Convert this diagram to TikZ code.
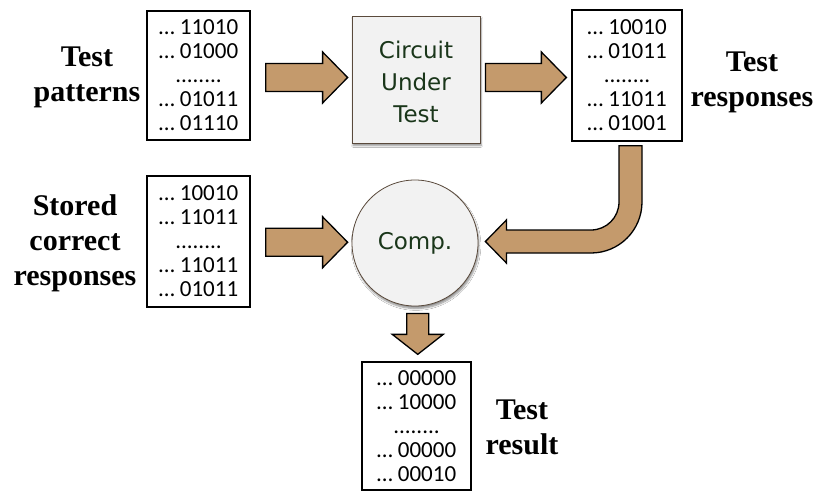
\documentclass[tikz,border=0pt]{standalone}
\usepackage{fontspec}
\setmainfont{Liberation Serif}
\newfontfamily\datafont{Carlito}
\newfontfamily\blockfont{DejaVu Sans}
\usetikzlibrary{calc,shadows.blur}

\definecolor{arrowtan}{HTML}{C49A6C}
\definecolor{blockgreen}{HTML}{1A361A}
\definecolor{blockfill}{HTML}{F2F2F2}
\definecolor{blockedge}{HTML}{5A4A3C}

\tikzset{
  databox/.style={draw=black, line width=1.3pt, fill=white, align=center,
    inner sep=0pt, text=black,
    font=\datafont\fontsize{23}{24}\selectfont},
  sidetext/.style={align=center, inner sep=0pt,
    font=\bfseries\fontsize{30}{35}\selectfont},
  block/.style={draw=blockedge, line width=0.8pt, fill=blockfill,
    text=blockgreen, align=center, inner sep=0pt,
    font=\blockfont\fontsize{23}{32}\selectfont,
    blur shadow={shadow xshift=1pt, shadow yshift=-2.5pt,
      shadow blur steps=6, shadow opacity=45}},
  flowarrow/.style={draw=black, fill=arrowtan, line width=1.3pt,
    line join=miter}
}

% block arrow pointing right, between two points
\newcommand\rightblock[2]{%
  \draw[flowarrow] let \p1=(#1), \p2=(#2), \n1={(\y1+\y2)/2} in
    (\x1,\n1+14) -- (\x2-25,\n1+14) -- (\x2-25,\n1+25.5) -- (\x2,\n1)
    -- (\x2-25,\n1-25.5) -- (\x2-25,\n1-14) -- (\x1,\n1-14) -- cycle;}

\begin{document}
\begin{tikzpicture}[x=1pt,y=1pt]
\fill[white] (0,0) rectangle (817,-493);
\useasboundingbox (0,0) rectangle (817,-493);

% data columns
\node[databox, minimum width=103, minimum height=129] (tp) at (198.5,-75.5)
  {… 11010\\… 01000\\........\\… 01011\\… 01110};
\node[databox, minimum width=110, minimum height=131] (resp) at (627,-75.5)
  {… 10010\\… 01011\\........\\… 11011\\… 01001};
\node[databox, minimum width=103, minimum height=131] (stored) at (198.5,-241.5)
  {… 10010\\… 11011\\........\\… 11011\\… 01011};
\node[databox, minimum width=109, minimum height=128] (res) at (416.5,-426)
  {… 00000\\… 10000\\........\\… 00000\\… 00010};

% circuit and comparator
\node[block, minimum width=128, minimum height=127] (cut) at (416,-79.5)
  {\raisebox{-5pt}[\height][\depth]{\begin{tabular}{@{}c@{}}Circuit\\Under\\Test\end{tabular}}};
\node[block, circle, minimum size=126] (comp) at (415,-243) {Comp.};

% captions
\node[sidetext] (tplabel) at (87,-77) {Test\\patterns};
\node[sidetext] (stlabel) at (75,-243.5) {Stored\\correct\\responses};
\node[sidetext] (rslabel) at (752,-82) {Test\\responses};
\node[sidetext] (rtlabel) at (522,-427.5) {Test\\result};

% straight block arrows
\rightblock{[xshift=15pt]tp.east}{[xshift=-4pt]cut.west}
\rightblock{[xshift=5pt]cut.east}{[xshift=-5pt]resp.west}
\rightblock{[xshift=15pt]stored.east}{[xshift=-4pt]comp.west}

% downward arrow to the result
\draw[flowarrow] let \p1=([yshift=-7pt]comp.south), \p2=([yshift=7pt]res.north),
    \n1={(\x1+\x2)/2+2} in
  (\n1-11,\y1) -- (\n1+11,\y1) -- (\n1+11,\y2+20) -- (\n1+25.5,\y2+20)
  -- (\n1,\y2) -- (\n1-25.5,\y2+20) -- (\n1-11,\y2+20) -- cycle;

% bent arrow feeding the responses back to the comparator
\draw[flowarrow] let \p1=([xshift=3.5pt,yshift=-4pt]resp.south),
    \p2=([xshift=7pt,yshift=1.5pt]comp.east) in
  (\x1-11.5,\y1) -- (\x1-11.5,\y2+11.5+28)
  arc[start angle=0, end angle=-90, radius=28]
  -- (\x2+21,\y2+11.5) -- (\x2+21,\y2+21.5) -- (\x2,\y2)
  -- (\x2+21,\y2-21.5) -- (\x2+21,\y2-11.5)
  -- (\x1+11.5-51,\y2-11.5)
  arc[start angle=-90, end angle=0, radius=51]
  -- (\x1+11.5,\y1) -- cycle;
\end{tikzpicture}
\end{document}
